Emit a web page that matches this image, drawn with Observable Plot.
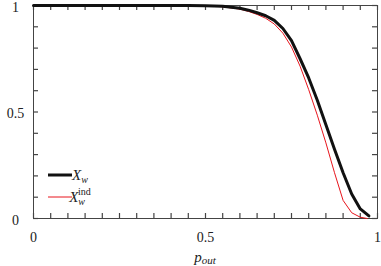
<!DOCTYPE html>
<html>
<head>
<meta charset="utf-8">
<script src="https://cdn.jsdelivr.net/npm/d3@7"></script>
<script src="https://cdn.jsdelivr.net/npm/@observablehq/plot@0.6"></script>
<style>
  body { margin: 0; background: white; }
  #chart { position: relative; width: 381px; height: 266px; }
</style>
</head>
<body>
<div id="chart"></div>
<script>
// x positions (p_out)
const pBlack = [0, 0.1, 0.2, 0.3, 0.4, 0.45, 0.5, 0.55, 0.6, 0.625, 0.65, 0.675, 0.7, 0.725, 0.75, 0.775, 0.8, 0.825, 0.85, 0.875, 0.9, 0.925, 0.95, 0.975];
const xwValues = [1, 1, 1, 1, 1, 1, 0.999, 0.996, 0.987, 0.978, 0.966, 0.952, 0.93, 0.892, 0.835, 0.75, 0.66, 0.555, 0.44, 0.325, 0.215, 0.115, 0.045, 0.012];
const pRed = [0, 0.1, 0.2, 0.3, 0.4, 0.45, 0.5, 0.55, 0.6, 0.625, 0.65, 0.675, 0.7, 0.725, 0.75, 0.775, 0.8, 0.825, 0.85, 0.875, 0.9, 0.925, 0.95, 0.97];
const xwIndValues = [1, 1, 1, 1, 1, 1, 0.999, 0.994, 0.983, 0.972, 0.958, 0.94, 0.913, 0.87, 0.805, 0.715, 0.605, 0.485, 0.355, 0.215, 0.085, 0.027, 0.006, 0];

const xMinorTicks = [0, 0.05, 0.1, 0.15, 0.2, 0.25, 0.3, 0.35, 0.4, 0.45, 0.5, 0.55, 0.6, 0.65, 0.7, 0.75, 0.8, 0.85, 0.9, 0.95, 1];
const yMinorTicks = [0, 0.1, 0.2, 0.3, 0.4, 0.5, 0.6, 0.7, 0.8, 0.9, 1];
const xTickLabels = [0, 0.5, 1];
const yTickLabels = [0, 0.5, 1];

const black = pBlack.map((p, i) => ({p, v: xwValues[i]}));
const red = pRed.map((p, i) => ({p, v: xwIndValues[i]}));

const W = 381, H = 266, ML = 33, MR = 4, MT = 5, MB = 48;
const FW = W - ML - MR, FH = H - MT - MB;
const axisColor = "#444";
const T = 5;

const chart = Plot.plot({
  width: W,
  height: H,
  marginLeft: ML,
  marginRight: MR,
  marginTop: MT,
  marginBottom: MB,
  x: {domain: [0, 1]},
  y: {domain: [0, 1]},
  style: {fontFamily: "'Liberation Serif', serif", fontSize: "14px", background: "white"},
  marks: [
    // inward ticks on all four sides
    Plot.tickX(xMinorTicks, {x: d => d, insetTop: FH - T, stroke: axisColor, strokeWidth: 1.2}),
    Plot.tickX(xMinorTicks, {x: d => d, insetBottom: FH - T, stroke: axisColor, strokeWidth: 1.2}),
    Plot.tickY(yMinorTicks, {y: d => d, insetRight: FW - T, stroke: axisColor, strokeWidth: 1.2}),
    Plot.tickY(yMinorTicks, {y: d => d, insetLeft: FW - T, stroke: axisColor, strokeWidth: 1.2}),
    Plot.axisX(xTickLabels, {anchor: "bottom", tickSize: 0, tickPadding: 14, tickFormat: d => String(d), label: null, fill: "#222"}),
    Plot.axisY(yTickLabels, {anchor: "left", tickSize: 0, tickPadding: 18, dy: 2, textAnchor: "middle", tickFormat: d => String(d), label: null, fill: "#222"}),
    Plot.frame({stroke: axisColor, strokeWidth: 1}),
    Plot.line(red, {x: "p", y: "v", stroke: "#e8141c", strokeWidth: 1}),
    Plot.line(black, {x: "p", y: "v", stroke: "#111", strokeWidth: 3})
  ]
});

document.getElementById("chart").appendChild(chart);

const svg = d3.select(chart);
// x label p_out
const xl = svg.append("text")
  .attr("x", 205).attr("y", 262)
  .attr("text-anchor", "middle")
  .attr("font-family", "'Liberation Serif', serif")
  .attr("font-style", "italic")
  .attr("font-size", 15)
  .attr("fill", "#222");
xl.append("tspan").text("p");
xl.append("tspan").attr("font-size", 11).attr("dy", 2).text("out");

// legend
const lg = svg.append("g").attr("font-family", "'Liberation Serif', serif").attr("fill", "#222");
lg.append("line").attr("x1", 48).attr("x2", 72).attr("y1", 175).attr("y2", 175).attr("stroke", "#111").attr("stroke-width", 3);
lg.append("line").attr("x1", 48).attr("x2", 72).attr("y1", 197).attr("y2", 197).attr("stroke", "#e8141c").attr("stroke-width", 1);
const t1 = lg.append("text").attr("x", 80).attr("y", 180).attr("font-size", 15);
t1.append("tspan").attr("font-style", "italic").text("X");
t1.append("tspan").attr("font-style", "italic").attr("font-size", 10).attr("dy", 3).text("w");
const t2 = lg.append("text").attr("x", 80).attr("y", 202).attr("font-size", 15);
t2.append("tspan").attr("font-style", "italic").text("X");
t2.append("tspan").attr("font-style", "italic").attr("font-size", 10).attr("dy", 3).text("w");
t2.append("tspan").attr("font-size", 10).attr("dx", -7).attr("dy", -10).text("ind");
</script>
</body>
</html>
